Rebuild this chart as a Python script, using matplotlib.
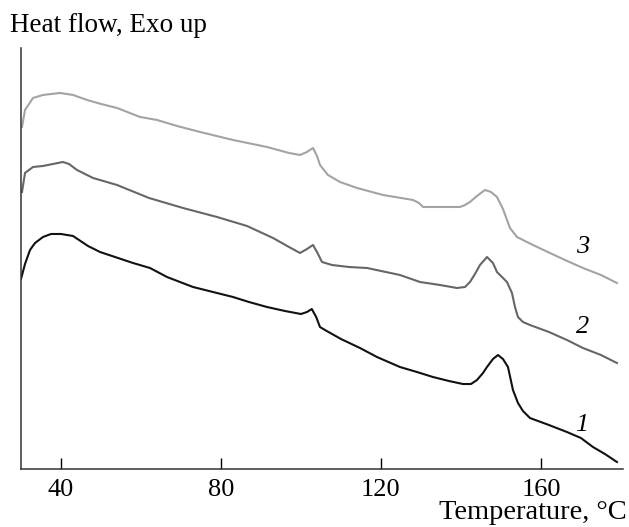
import matplotlib
matplotlib.use('Agg')
import matplotlib.pyplot as plt

plt.rcParams['font.family'] = ['Liberation Serif', 'DejaVu Serif']

# DSC curves (temperature, heat flow in arbitrary units, exo up)
t1 = [30, 31, 32.25, 33.5, 35.5, 37.5, 40, 43, 46.75, 49.75, 53.5, 58, 62.25, 66.5, 73, 78,
      83, 87, 91.5, 96, 100, 101.5, 102.7, 103.8, 104.75, 106, 110, 114.75, 119, 124.75, 129,
      133, 137, 140.5, 142.5, 144, 145.5, 146.5, 148, 149.25, 150.5, 151.75, 153, 154.25,
      155.5, 157.25, 162, 166.5, 170, 173, 176, 179]
h1 = [190, 205, 219, 226, 232, 235, 235, 233, 223, 217, 212, 206, 201, 192, 182, 177,
      172, 167, 162, 158, 155, 157, 160, 152, 142, 139, 130, 121, 112, 102, 97,
      92, 88, 85, 85, 89, 96, 102, 110, 114, 110, 102, 79, 66, 58, 51, 44, 37, 31, 22, 15, 7]

t2 = [30.25, 31, 33, 35.5, 38, 40.5, 42, 44, 48, 54, 62, 70.5, 79, 86.5, 93, 97, 99.75,
      101.5, 103, 104, 105.25, 107.75, 112, 116.5, 124.75, 129.75, 134.75, 139, 141,
      142.25, 143.5, 144.75, 146.5, 148, 149, 151.5, 152.75, 153.5, 154.25, 155.5,
      157.25, 162, 166.5, 170.5, 175, 179]
h2 = [277, 296, 302, 303, 305, 307, 305, 299, 291, 284, 271, 261, 252, 243, 231, 222, 216,
      220, 224, 217, 207, 204, 202, 201, 194, 187, 184, 181, 182, 187, 195, 204, 212, 206,
      197, 187, 176, 162, 152, 147, 144, 137, 129, 121, 114, 106]

t3 = [30.25, 31, 33, 35.5, 39.75, 43, 46.5, 50, 54, 59.75, 64, 69, 74.75, 83, 91.5, 97,
      99.75, 101.5, 103, 104, 104.75, 106.75, 109.75, 114, 120.5, 128, 129.5, 130.5,
      135, 139.75, 141, 142.25, 144, 146, 147.5, 149, 150.5, 152.25, 154, 158, 162.25,
      166, 170.5, 175, 179]
h3 = [342, 359, 371, 374, 376, 374, 369, 365, 361, 352, 349, 343, 337, 329, 322, 316, 314,
      317, 321, 313, 304, 294, 287, 281, 274, 269, 266, 262, 262, 262, 264, 267, 273, 279,
      277, 272, 260, 241, 232, 224, 216, 209, 201, 194, 186]

curves = [(t1, h1, '#111111', '1'), (t2, h2, '#666666', '2'), (t3, h3, '#a3a3a3', '3')]
label_pos = {'1': (170.3, 44), '2': (170.5, 142), '3': (170.5, 222)}

fig = plt.figure(figsize=(6.29, 5.27), dpi=100)
ax = fig.add_axes([0.0334, 0.110, 0.957, 0.799])

for t, h, c, lab in curves:
    ax.plot(t, h, color=c, linewidth=1.5)
    lx, ly = label_pos[lab]
    ax.text(lx, ly, lab, fontsize=19, fontstyle='italic', ha='center', va='center')

ax.set_xlim(30, 180.5)
ax.set_ylim(0, 421)
ax.set_xticks([40, 80, 120, 160])
ax.set_yticks([])
ax.tick_params(axis='x', direction='in', length=8, width=1.0, labelsize=19, pad=7)
for s in ['top', 'right']:
    ax.spines[s].set_visible(False)
for s in ['left', 'bottom']:
    ax.spines[s].set_linewidth(1.1)
    ax.spines[s].set_color('#333333')

fig.text(0.016, 0.951, 'Heat flow, Exo up', fontsize=19.5, ha='left', va='center')
fig.text(0.997, 0.027, 'Temperature, °C', fontsize=20.5, ha='right', va='center')

fig.savefig('out.png', dpi=100)
